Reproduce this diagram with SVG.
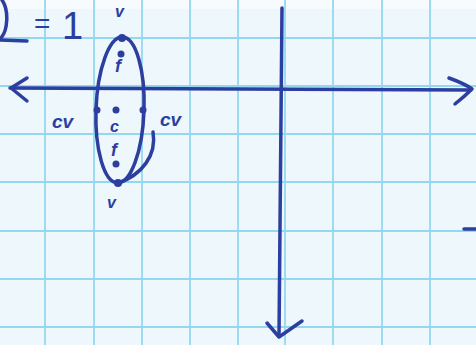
<svg xmlns="http://www.w3.org/2000/svg" width="476" height="345" viewBox="0 0 476 345">
<defs>
<style>
.grid{stroke:#93d8f1;stroke-width:1.8;fill:none}
.ink{stroke:#2c3e9f;stroke-width:3.5;fill:none;stroke-linecap:round;stroke-linejoin:round}
.dot{fill:#2c3e9f}
.lbl{font-family:"Liberation Sans",Arial,sans-serif;fill:#2c3e9f;font-style:italic;font-weight:bold}
.eq{font-family:"Liberation Sans",Arial,sans-serif;fill:#2c3e9f}
</style>
</defs>
<rect x="0" y="0" width="476" height="345" fill="#eef7fb"/>
<rect x="0" y="0" width="476" height="9" fill="#f8fbfd"/>
<g id="grid" class="grid">
<path d="M45,0V345M94,0V345M142,0V345M190,0V345M238,0V345M285,0V345M333,0V345M382,0V345M430,0V345"/>
<path d="M0,38H476M0,86H476M0,134H476M0,182H476M0,231H476M0,279H476M0,327H476"/>
</g>
<g id="connectors" class="ink">
<path d="M10,88 L470,90"/>
<path d="M27,78 L11,88 L27,101"/>
<path d="M449,78 C460,82 468,86 472,89 C466,95 460,100 455,104"/>
<path d="M282,8 L279,336"/>
<path d="M267,323 L279,337 L302,321"/>
<path d="M464,229 L476,229"/>
</g>
<g id="equation">
<path class="ink" d="M2,0 C9,10 8,30 1,38"/>
<path class="ink" d="M0,40 L27,41"/>
<text class="eq" x="34" y="33" font-size="28">=</text>
<text class="eq" x="62" y="39" font-size="38">1</text>
</g>
<g id="ellipse">
<ellipse class="ink" cx="120" cy="110" rx="24" ry="73" transform="rotate(2 120 110)"/>
<path class="ink" d="M153,132 C157,155 142,175 118,183"/>
</g>
<g id="vertex-top">
<circle class="dot" cx="122" cy="38" r="4"/>
<text class="lbl" x="115" y="17" font-size="16">v</text>
</g>
<g id="focus-top">
<circle class="dot" cx="121" cy="54" r="3.5"/>
<text class="lbl" x="115" y="72" font-size="18">f</text>
</g>
<g id="center">
<circle class="dot" cx="116" cy="110" r="3.5"/>
<text class="lbl" x="110" y="132" font-size="16">c</text>
</g>
<g id="focus-bottom">
<text class="lbl" x="111" y="156" font-size="18">f</text>
<circle class="dot" cx="116" cy="164" r="3.5"/>
</g>
<g id="vertex-bottom">
<circle class="dot" cx="118" cy="183" r="4"/>
<text class="lbl" x="107" y="208" font-size="16">v</text>
</g>
<g id="covertex-left">
<circle class="dot" cx="97" cy="110" r="3.5"/>
<text class="lbl" x="52" y="128" font-size="19">cv</text>
</g>
<g id="covertex-right">
<circle class="dot" cx="143" cy="110" r="3.5"/>
<text class="lbl" x="160" y="126" font-size="19">cv</text>
</g>
</svg>
